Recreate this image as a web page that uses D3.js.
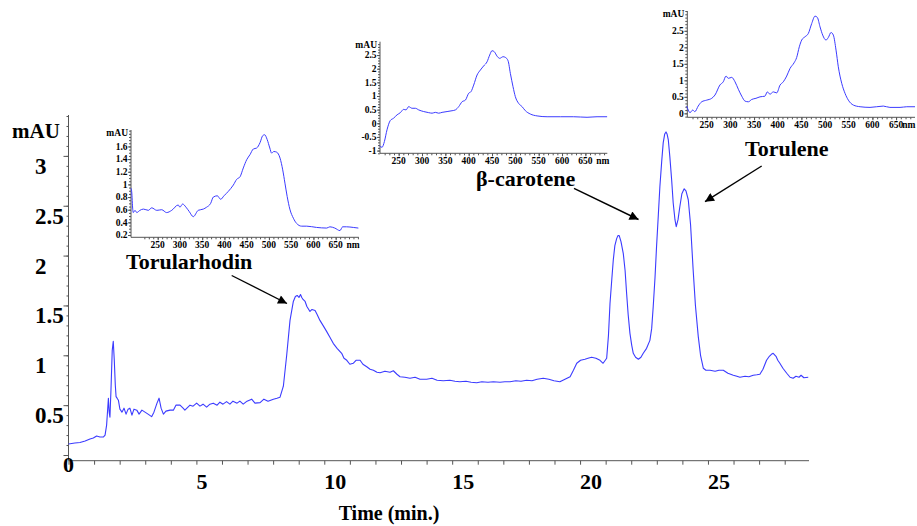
<!DOCTYPE html>
<html>
<head>
<meta charset="utf-8">
<script src="https://cdn.jsdelivr.net/npm/d3@7/dist/d3.min.js"></script>
<style>
  html, body { margin: 0; padding: 0; background: #fff; }
  svg { display: block; }
  text { font-family: "Liberation Serif", "Times New Roman", serif; font-weight: bold; fill: #000; }
</style>
</head>
<body>
<svg id="chart" width="917" height="526"></svg>
<script>
// HPLC chromatogram (450 nm) with UV-Vis spectra of the three main carotenoids

// --- chromatogram: retention time (min) and absorbance (mAU)
const chromTime = [0.00,0.25,0.45,0.65,0.84,0.97,1.10,1.23,1.36,1.43,1.49,1.56,1.59,1.62,1.66,1.71,1.75,1.79,1.83,1.86,1.90,1.95,2.01,2.09,2.17,2.25,2.33,2.40,2.48,2.56,2.67,2.76,2.87,2.99,3.11,3.25,3.34,3.46,3.54,3.62,3.71,3.81,3.97,4.10,4.20,4.36,4.48,4.55,4.75,4.87,5.01,5.14,5.26,5.40,5.53,5.66,5.81,5.92,6.04,6.18,6.31,6.43,6.59,6.70,6.83,6.98,7.16,7.29,7.49,7.64,7.80,8.01,8.15,8.27,8.40,8.53,8.66,8.79,8.87,8.94,9.01,9.07,9.12,9.17,9.25,9.32,9.44,9.52,9.64,9.72,9.83,9.95,10.09,10.22,10.35,10.50,10.68,10.77,10.88,11.00,11.13,11.24,11.40,11.51,11.66,11.79,11.92,12.06,12.18,12.37,12.57,12.70,12.84,12.96,13.15,13.35,13.55,13.74,14.00,14.21,14.41,14.65,14.91,15.11,15.30,15.54,15.74,15.96,16.16,16.40,16.61,16.87,17.06,17.26,17.49,17.69,17.91,18.12,18.32,18.56,18.78,18.98,19.21,19.41,19.61,19.74,19.87,20.02,20.19,20.31,20.45,20.62,20.78,20.90,21.04,21.11,21.17,21.24,21.30,21.36,21.43,21.48,21.53,21.60,21.69,21.76,21.82,21.88,21.95,22.02,22.08,22.17,22.28,22.38,22.47,22.60,22.73,22.80,22.86,22.93,22.99,23.06,23.12,23.19,23.25,23.31,23.36,23.40,23.45,23.51,23.58,23.64,23.71,23.76,23.83,23.90,23.98,24.07,24.14,24.23,24.32,24.42,24.51,24.62,24.71,24.82,24.92,25.08,25.28,25.43,25.60,25.78,25.99,26.13,26.25,26.45,26.60,26.77,26.91,27.03,27.15,27.29,27.40,27.48,27.55,27.66,27.73,27.81,27.93,28.08,28.21,28.33,28.44,28.56,28.64,28.75,28.92];
const chromAbs  = [0.11,0.12,0.125,0.14,0.16,0.17,0.19,0.18,0.18,0.20,0.30,0.57,0.43,0.38,0.65,1.05,1.14,0.95,0.70,0.585,0.57,0.55,0.46,0.43,0.47,0.41,0.46,0.47,0.40,0.46,0.45,0.41,0.45,0.43,0.41,0.385,0.43,0.52,0.57,0.47,0.41,0.44,0.45,0.45,0.50,0.50,0.47,0.45,0.50,0.49,0.52,0.49,0.51,0.48,0.51,0.52,0.50,0.53,0.51,0.535,0.51,0.54,0.52,0.54,0.51,0.54,0.56,0.52,0.525,0.56,0.54,0.56,0.57,0.58,0.69,1.00,1.35,1.54,1.59,1.60,1.58,1.61,1.58,1.56,1.54,1.49,1.44,1.46,1.45,1.41,1.35,1.30,1.24,1.18,1.12,1.07,1.02,0.97,0.95,0.91,0.92,0.95,0.95,0.91,0.885,0.86,0.85,0.83,0.825,0.84,0.83,0.845,0.81,0.785,0.78,0.77,0.78,0.76,0.76,0.77,0.75,0.745,0.75,0.74,0.735,0.74,0.73,0.725,0.735,0.73,0.735,0.73,0.735,0.735,0.745,0.74,0.75,0.745,0.76,0.77,0.76,0.745,0.735,0.76,0.785,0.85,0.92,0.95,0.96,0.97,0.98,0.97,0.95,0.92,0.97,1.20,1.52,1.76,1.96,2.10,2.17,2.20,2.20,2.14,2.02,1.85,1.62,1.41,1.22,1.10,1.02,0.98,0.96,0.98,1.02,1.07,1.15,1.27,1.49,1.78,2.09,2.41,2.69,2.94,3.13,3.22,3.24,3.22,3.16,2.99,2.76,2.53,2.36,2.29,2.36,2.49,2.62,2.67,2.65,2.56,2.31,1.86,1.50,1.19,1.00,0.87,0.85,0.85,0.84,0.85,0.85,0.82,0.80,0.79,0.78,0.79,0.785,0.80,0.805,0.81,0.86,0.95,0.99,1.01,1.02,0.99,0.95,0.92,0.87,0.82,0.78,0.77,0.79,0.78,0.80,0.775,0.78];

// --- main axis ticks
const timeTicks = [0, 5, 10, 15, 20, 25];
const absTicks = [0.5, 1, 1.5, 2, 2.5, 3];

// --- spectra: wavelength (nm) and absorbance (mAU)
const torularhodinNm  = [190,191.5,194,195,199,203,210,218,229,236.5,248,259,270,281.5,296,300,306,313.6,321,330,341,352.5,360,369,375,384,391.5,399,408.7,420,427.5,435,442.4,450,457.4,465,472.5,480,486,490.4,496,502,506,511,517.4,525,531,536,541,547,555,562,573.6,585,607,630,637,648,659.7,665.7,674.6,689.6,701];
const torularhodinAbs = [0.94,0.89,0.60,0.555,0.59,0.555,0.59,0.61,0.59,0.63,0.59,0.60,0.555,0.59,0.675,0.64,0.69,0.64,0.57,0.49,0.59,0.61,0.64,0.70,0.80,0.82,0.765,0.82,0.89,0.99,1.08,1.12,1.26,1.39,1.47,1.56,1.575,1.66,1.77,1.785,1.71,1.575,1.495,1.52,1.51,1.415,1.23,1.02,0.81,0.61,0.465,0.385,0.34,0.34,0.32,0.31,0.33,0.31,0.27,0.33,0.33,0.32,0.31];

const betaCaroteneNm  = [209,214.4,219.4,225,232,239,246.6,253.6,260.7,265.8,271.4,278.7,285.8,292.9,303.6,314.3,321.6,328.6,335.7,343,353.7,364.4,371.5,378.6,385.9,393,400,405,410.7,418,425,432,439.4,445,450,455,460.8,466.4,473.7,478.6,484.4,489.3,495,500,507,514.4,521.5,532,546.6,568,596.5,625,653.6,675,696.6];
const betaCaroteneAbs = [-0.83,-0.88,-0.67,-0.24,0.10,0.185,0.31,0.39,0.51,0.49,0.61,0.55,0.55,0.49,0.43,0.39,0.37,0.40,0.37,0.40,0.43,0.46,0.49,0.61,0.79,0.85,1.10,1.16,1.40,1.77,1.95,2.10,2.255,2.50,2.66,2.62,2.46,2.38,2.44,2.415,2.29,1.83,1.34,0.975,0.73,0.61,0.46,0.34,0.27,0.24,0.24,0.24,0.22,0.24,0.24];

const toruleneNm  = [207.7,211,214.7,220.4,225,232,239.4,250,260.6,267.5,278,285,290.8,295.6,302.8,309.8,316.8,324,331,338,345,354,362.6,373,378,383.7,390.7,397.9,404.9,411.8,419,426,434.5,440,445.6,450.7,457.7,464.7,471.8,478.8,483.7,489.4,495,502,507,512.6,517.5,523.2,528,535.2,542.2,549.2,559.8,574,595,623,637,658.4,672.6,690];
const toruleneAbs = [0.22,0.10,0.02,0.10,0.05,0.22,0.35,0.40,0.455,0.555,0.86,0.955,1.13,1.06,1.09,0.955,0.73,0.52,0.37,0.35,0.42,0.455,0.50,0.52,0.65,0.58,0.65,0.62,0.855,0.955,1.13,1.36,1.53,1.69,2.015,2.22,2.32,2.42,2.72,2.945,2.905,2.62,2.37,2.22,2.30,2.45,2.37,1.915,1.41,0.91,0.605,0.40,0.25,0.20,0.18,0.22,0.18,0.18,0.20,0.20];

const nmTicks = [250, 300, 350, 400, 450, 500, 550, 600, 650];
const torularhodinTicks = [0.2, 0.4, 0.6, 0.8, 1, 1.2, 1.4, 1.6];
const betaCaroteneTicks = [-1, -0.5, 0, 0.5, 1, 1.5, 2, 2.5];
const toruleneTicks = [0, 0.5, 1, 1.5, 2, 2.5];

// --- peak annotations
const compoundNames = ["Torularhodin", "\u03b2-carotene", "Torulene"];

const TRACE = "#3b3bff";
const AXIS = "#555";
const W = 917;

const svg = d3.select("#chart");

svg.append("defs").append("marker")
  .attr("id", "head")
  .attr("viewBox", "0 0 10 10")
  .attr("refX", 10).attr("refY", 5)
  .attr("markerWidth", 11).attr("markerHeight", 9)
  .attr("markerUnits", "userSpaceOnUse")
  .attr("orient", "auto")
  .append("path").attr("d", "M0,0 L10,5 L0,10 Z").attr("fill", "#000");

// ================= main chromatogram =================
const x = d3.scaleLinear().domain([0, 28.95]).range([68.5, 809]);
const y = d3.scaleLinear().domain([-0.057, 3.41]).range([460.7, 115]);

const main = svg.append("g");

// x axis: 1-min ticks hanging below the baseline
const xAxis = main.append("g").attr("transform", `translate(0,${y.range()[0]})`)
  .call(d3.axisBottom(x).tickValues(d3.range(0, 29, 1)).tickSize(4).tickFormat(""));
xAxis.select(".domain").attr("stroke", AXIS).attr("d", `M${x.range()[0]},0H${x.range()[1]}`);
xAxis.selectAll(".tick line").attr("stroke", AXIS);

// y axis: minor 0.1 ticks, major 0.5 ticks on the left
const yAxisMinor = main.append("g").attr("transform", `translate(${x.range()[0]},0)`)
  .call(d3.axisLeft(y).tickValues(d3.range(1, 35).map(i => i / 10)).tickSize(2).tickFormat(""));
yAxisMinor.select(".domain").remove();
yAxisMinor.selectAll(".tick line").attr("stroke", AXIS);
const yAxis = main.append("g").attr("transform", `translate(${x.range()[0]},0)`)
  .call(d3.axisLeft(y).tickValues([0].concat(absTicks)).tickSize(5).tickFormat(""));
yAxis.select(".domain").attr("stroke", AXIS).attr("d", `M0,${y.range()[0]}V${y.range()[1]}`);
yAxis.selectAll(".tick line").attr("stroke", AXIS);

// tick labels: left-aligned, set beside their ticks
main.selectAll("text.ylab").data(absTicks).join("text")
  .attr("class", "ylab")
  .attr("x", 35).attr("y", d => y(d) + 18)
  .attr("font-size", 23)
  .text(d => String(d));
main.selectAll("text.xlab").data(timeTicks).join("text")
  .attr("class", "xlab")
  .attr("x", d => d === 0 ? x(d) - 5.5 : x(d))
  .attr("y", d => d === 0 ? 472 : 489)
  .attr("font-size", 22)
  .text(d => String(d));

main.append("text").attr("x", 12).attr("y", 138).attr("font-size", 21).text("mAU");
main.append("text").attr("x", 389).attr("y", 520).attr("font-size", 20)
  .attr("text-anchor", "middle").text("Time (min.)");

const chromLine = d3.line().x(d => x(d[0])).y(d => y(d[1]));
main.append("path")
  .datum(d3.zip(chromTime, chromAbs))
  .attr("fill", "none").attr("stroke", TRACE).attr("stroke-width", 1.1)
  .attr("stroke-linejoin", "round")
  .attr("d", chromLine);

// ================= spectra insets =================
function inset(opts) {
  const sx = d3.scaleLinear().domain(opts.nmDomain).range(opts.xRange);
  const sy = d3.scaleLinear().domain(opts.absDomain).range(opts.yRange);
  const g = svg.append("g");
  const x0 = opts.xRange[0], yb = opts.yRange[0];

  const ax = g.append("g").attr("transform", `translate(0,${yb})`)
    .call(d3.axisBottom(sx).tickValues(d3.range(220, opts.nmDomain[1], 10)).tickSize(2).tickFormat(""));
  ax.select(".domain").attr("stroke", AXIS).attr("d", `M${opts.xRange[0]},0H${opts.xRange[1]}`);
  ax.selectAll(".tick line").attr("stroke", AXIS);
  const axMaj = g.append("g").attr("transform", `translate(0,${yb})`)
    .call(d3.axisBottom(sx).tickValues(nmTicks).tickSize(3).tickFormat(""));
  axMaj.select(".domain").remove();
  axMaj.selectAll(".tick line").attr("stroke", AXIS);

  const ayMinor = g.append("g").attr("transform", `translate(${x0},0)`)
    .call(d3.axisLeft(sy).tickValues(d3.range(Math.ceil(opts.absDomain[0] / opts.minor), Math.floor(opts.absDomain[1] / opts.minor) + 1).map(i => i * opts.minor)).tickSize(2).tickFormat(""));
  ayMinor.select(".domain").attr("stroke", AXIS).attr("d", `M0,${opts.yRange[0]}V${opts.yRange[1]}`);
  ayMinor.selectAll(".tick line").attr("stroke", AXIS);
  const ay = g.append("g").attr("transform", `translate(${x0},0)`)
    .call(d3.axisLeft(sy).tickValues(opts.ticks).tickSize(3).tickFormat(""));
  ay.select(".domain").remove();
  ay.selectAll(".tick line").attr("stroke", AXIS);

  g.selectAll("text.iy").data(opts.ticks).join("text")
    .attr("class", "iy")
    .attr("x", x0 - 3.5).attr("y", d => sy(d))
    .attr("dy", "0.35em").attr("text-anchor", "end")
    .attr("font-size", 9.5)
    .text(d => String(d));
  g.selectAll("text.ix").data(nmTicks).join("text")
    .attr("class", "ix")
    .attr("x", d => sx(d)).attr("y", yb + 10.5)
    .attr("text-anchor", "middle")
    .attr("font-size", 9.5)
    .text(d => String(d));
  // unit after the last wavelength label, kept inside the page
  g.append("text").attr("x", Math.min(sx(650) + 24, W - 1.5)).attr("y", yb + 10.5)
    .attr("text-anchor", "end").attr("font-size", 9.5).text("nm");
  g.append("text").attr("x", x0 - 3).attr("y", opts.yRange[1] + 3).attr("dy", "0.35em")
    .attr("text-anchor", "end").attr("font-size", 9.5).text("mAU");

  g.append("path")
    .datum(d3.zip(opts.nm, opts.abs))
    .attr("fill", "none").attr("stroke", TRACE).attr("stroke-width", 1)
    .attr("stroke-linejoin", "round")
    .attr("d", d3.line().x(d => sx(d[0])).y(d => sy(d[1])).curve(d3.curveMonotoneX));
}

inset({ nm: torularhodinNm, abs: torularhodinAbs, ticks: torularhodinTicks, minor: 0.05,
        nmDomain: [190, 702], absDomain: [0.164, 1.86], xRange: [131, 358.8], yRange: [237.3, 130] });
inset({ nm: betaCaroteneNm, abs: betaCaroteneAbs, ticks: betaCaroteneTicks, minor: 0.1,
        nmDomain: [210, 697], absDomain: [-1.1, 2.99], xRange: [380, 607.3], yRange: [153.3, 41.7] });
inset({ nm: toruleneNm, abs: toruleneAbs, ticks: toruleneTicks, minor: 0.1,
        nmDomain: [209, 690], absDomain: [-0.12, 3.1], xRange: [687.3, 915], yRange: [117.3, 11] });

// ================= peak labels and arrows =================
const notes = svg.append("g");
notes.append("text").attr("x", 126).attr("y", 268.5).attr("font-size", 22).text(compoundNames[0]);
notes.append("text").attr("x", 476).attr("y", 186).attr("font-size", 22).text(compoundNames[1]);
notes.append("text").attr("x", 745).attr("y", 156).attr("font-size", 22).text(compoundNames[2]);

const arrows = [
  [[231.7, 275.5], [287, 303.5]],
  [[574, 188.3], [638.5, 219.5]],
  [[761.7, 166], [705, 201.7]]
];
notes.selectAll("line.arrow").data(arrows).join("line")
  .attr("class", "arrow")
  .attr("x1", d => d[0][0]).attr("y1", d => d[0][1])
  .attr("x2", d => d[1][0]).attr("y2", d => d[1][1])
  .attr("stroke", "#000").attr("stroke-width", 1.4)
  .attr("marker-end", "url(#head)");
</script>
</body>
</html>
